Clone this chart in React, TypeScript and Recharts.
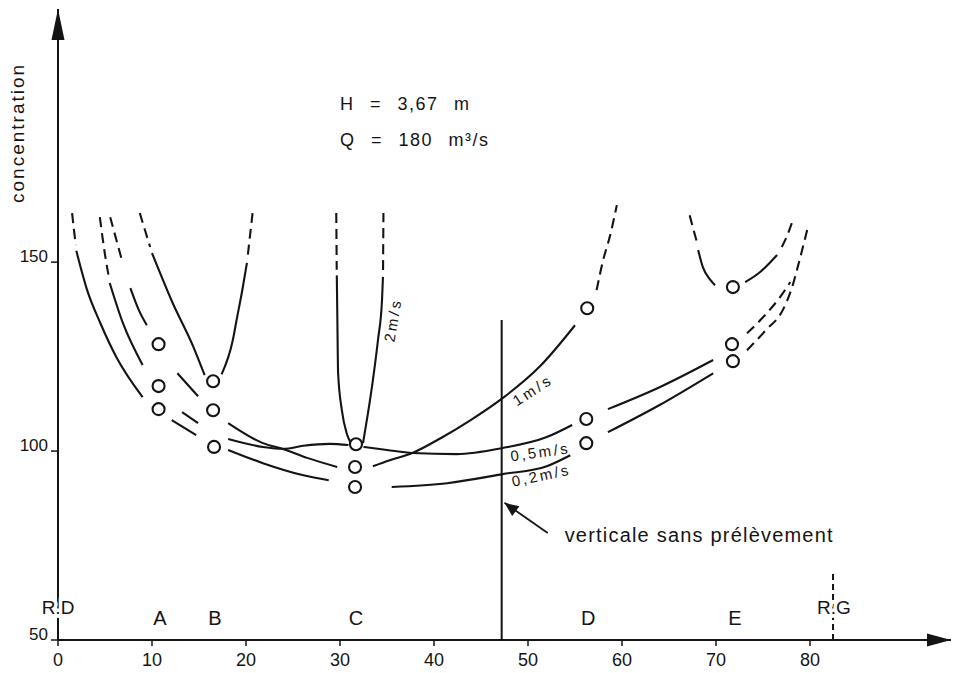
import React from 'react';
import { ComposedChart, Line, XAxis, YAxis, ReferenceDot } from 'recharts';

const F = "'Liberation Sans', Arial, Helvetica, sans-serif";
const INK = '#141414';

// ---- axes ----
const xTicks = [0, 10, 20, 30, 40, 50, 60, 70, 80];
const yTicks = [50, 100, 150];

// ---- 0,2 m/s curve (x = distance, y = concentration) ----
const c02Top = [[1.5, 163.0], [1.7, 158.5], [1.9, 154.5]];
const c02A = [[1.95, 153.0], [3.1, 142.6], [4.5, 133.9], [6.2, 124.9], [9.0, 114.3]];
const c02B = [[12.1, 108.2], [14.7, 104.2]];
const c02C = [[18.1, 100.3], [21.8, 96.8], [26.1, 93.6], [28.8, 92.3]];
const c02D = [[35.5, 90.5], [41.4, 91.5], [47.3, 93.9], [52.0, 96.0], [54.5, 98.9]];
const c02E = [[58.5, 105.0], [64.0, 112.2], [69.7, 120.6]];
const c02End = [[73.3, 126.7], [75.3, 132.0], [77.1, 137.3], [78.1, 143.4], [78.8, 149.7], [79.7, 158.5]];

// ---- 0,5 m/s curve ----
const c05Top = [[4.45, 161.9], [5.0, 152.0], [5.45, 145.5]];
const c05A = [[5.5, 144.5], [6.9, 133.9], [9.0, 122.8]];
const c05B = [[13.2, 110.3], [14.9, 107.4]];
const c05C = [[18.1, 103.2], [21.8, 101.1], [24.0, 100.6], [26.1, 101.4], [28.9, 101.9], [30.9, 101.6]];
const c05D = [[32.5, 101.1], [35.0, 100.3], [37.7, 99.5], [42.4, 99.2], [47.3, 100.8], [52.0, 103.7], [54.7, 106.9]];
const c05E = [[58.5, 111.1], [64.0, 116.9], [69.7, 124.1]];
const c05End = [[73.3, 131.2], [75.0, 135.4], [76.8, 140.7], [77.9, 144.7]];

// ---- 1 m/s curve ----
const c1Top = [[5.55, 161.9], [6.2, 156.0], [6.8, 150.5]];
const c1A = [[7.7, 143.1], [8.6, 137.3], [9.45, 133.3]];
const c1B = [[12.7, 120.6], [14.9, 114.5]];
const c1C = [[18.1, 107.4], [21.8, 102.1], [24.0, 100.5], [26.5, 98.2], [29.7, 95.8]];
const c1D = [[33.5, 96.0], [35.3, 97.6], [37.7, 99.5], [40.7, 103.4], [43.9, 108.2], [47.3, 114.0], [51.3, 122.5], [55.0, 133.3]];
const c1End = [[57.3, 142.6], [58.0, 150.6], [58.7, 156.7], [59.45, 165.1]];

// ---- 2 m/s curves (one U around verticals B, C, E) ----
const u2BTopL = [[8.7, 163.0], [9.25, 158.5], [9.8, 154.0]];
const u2BL = [[10.0, 152.4], [12.2, 139.2], [14.4, 127.6], [15.6, 120.1]];
const u2BR = [[17.4, 120.3], [18.6, 129.4], [19.0, 134.7], [19.6, 142.5], [20.1, 149.8]];
const u2BTopR = [[20.2, 152.0], [20.45, 157.5], [20.7, 163.0]];
const u2CTopL = [[29.6, 163.0], [29.63, 155.0], [29.65, 148.0]];
const u2CL = [[29.66, 146.5], [29.72, 134.7], [29.8, 120.6], [30.2, 110.8], [30.7, 104.8], [31.1, 102.4]];
const u2CR = [[32.45, 102.1], [32.98, 110.1], [33.5, 118.8], [34.04, 129.4], [34.47, 140.0], [34.57, 146.1]];
const u2CTopR = [[34.58, 147.9], [34.6, 155.0], [34.62, 163.0]];
const u2ETopL = [[67.2, 162.4], [67.6, 158.6], [68.0, 155.1]];
const u2EL = [[68.1, 153.2], [68.6, 148.7], [69.4, 145.3], [69.9, 143.9]];
const u2ER = [[73.1, 144.7], [74.7, 147.4], [76.5, 151.9]];
const u2ETopR = [[77.0, 154.0], [77.6, 157.2], [78.1, 160.6]];

// ---- measured points (circles) at verticals A..E ----
const measured = [
  [10.7, 128.3], [10.7, 117.2], [10.7, 111.1],
  [16.5, 118.5], [16.5, 110.8], [16.6, 101.1],
  [31.7, 101.8], [31.6, 95.8], [31.6, 90.5],
  [56.3, 137.8], [56.2, 108.5], [56.2, 102.1],
  [71.8, 143.4], [71.7, 128.3], [71.8, 123.8],
];

// ---- verticals / annotations ----
const noSampleVertical = [[47.2, 50], [47.2, 134.7]];
const leftBankMark = [[82.45, 50], [82.45, 68.5]];
const pointer = [[52.1, 78.3], [47.5, 86.3]];
const yArrow = [[0, 217]];
const xArrow = [[95, 50]];

const sectionNames = ['A', 'B', 'C', 'D', 'E'];
const sectionX = [10.85, 16.7, 31.7, 56.4, 72.0];

const toPts = (a: number[][]) => a.map(([x, y]) => ({ x, y }));

type Seg = { id: string; pts: number[][]; dash?: boolean };
const segments: Seg[] = [
  { id: 'c02Top', pts: c02Top, dash: true }, { id: 'c02A', pts: c02A }, { id: 'c02B', pts: c02B },
  { id: 'c02C', pts: c02C }, { id: 'c02D', pts: c02D }, { id: 'c02E', pts: c02E },
  { id: 'c02End', pts: c02End, dash: true },
  { id: 'c05Top', pts: c05Top, dash: true }, { id: 'c05A', pts: c05A }, { id: 'c05B', pts: c05B },
  { id: 'c05C', pts: c05C }, { id: 'c05D', pts: c05D }, { id: 'c05E', pts: c05E },
  { id: 'c05End', pts: c05End, dash: true },
  { id: 'c1Top', pts: c1Top, dash: true }, { id: 'c1A', pts: c1A }, { id: 'c1B', pts: c1B },
  { id: 'c1C', pts: c1C }, { id: 'c1D', pts: c1D }, { id: 'c1End', pts: c1End, dash: true },
  { id: 'u2BTopL', pts: u2BTopL, dash: true }, { id: 'u2BL', pts: u2BL }, { id: 'u2BR', pts: u2BR },
  { id: 'u2BTopR', pts: u2BTopR, dash: true },
  { id: 'u2CTopL', pts: u2CTopL, dash: true }, { id: 'u2CL', pts: u2CL }, { id: 'u2CR', pts: u2CR },
  { id: 'u2CTopR', pts: u2CTopR, dash: true },
  { id: 'u2ETopL', pts: u2ETopL, dash: true }, { id: 'u2EL', pts: u2EL }, { id: 'u2ER', pts: u2ER },
  { id: 'u2ETopR', pts: u2ETopR, dash: true },
];

const XTick = (p: any) => (
  <text x={p.x} y={p.y + 12} textAnchor="middle" dominantBaseline="central" fontSize={18} fontFamily={F} fill={INK}>
    {p.payload.value}
  </text>
);
const YTick = (p: any) => (
  <text x={p.x - 1} y={p.y - 6} textAnchor="end" dominantBaseline="central" fontSize={17} fontFamily={F} fill={INK}>
    {p.payload.value}
  </text>
);

type LOpts = { anchor?: 'start' | 'middle' | 'end'; rotate?: number; ls?: number; ws?: number; halo?: boolean };
const textShape = (s: string, size: number, o: LOpts = {}) => (p: any) => (
  <text
    x={p.cx}
    y={p.cy}
    fontSize={size}
    fontFamily={F}
    fill={INK}
    textAnchor={o.anchor ?? 'middle'}
    dominantBaseline="central"
    letterSpacing={o.ls ?? 0}
    wordSpacing={o.ws ?? 0}
    transform={o.rotate ? `rotate(${o.rotate} ${p.cx} ${p.cy})` : undefined}
    stroke={o.halo ? '#fff' : 'none'}
    strokeWidth={o.halo ? 7 : 0}
    paintOrder="stroke"
  >
    {s}
  </text>
);

const upArrow = (p: any) => (
  <polygon key="ya" points={`${p.cx},${p.cy} ${p.cx - 6.5},${p.cy + 31} ${p.cx + 6.5},${p.cy + 31}`} fill={INK} />
);
const rightArrow = (p: any) => (
  <polygon key="xa" points={`${p.cx},${p.cy} ${p.cx - 24},${p.cy - 6.5} ${p.cx - 24},${p.cy + 6.5}`} fill={INK} />
);
const pointerHead = (p: any) => {
  if (p.index !== 1) return <g key={`pg${p.index}`} />;
  const { cx, cy } = p;
  return (
    <polygon
      key="ph"
      points={`${cx},${cy} ${cx + 11.3 + 3.6},${cy + 8.3 - 4.9} ${cx + 11.3 - 3.6},${cy + 8.3 + 4.9}`}
      fill={INK}
    />
  );
};

export default function App() {
  return (
    <div style={{ position: 'absolute', left: 0, top: 0, width: 953, height: 673, background: '#fff' }}>
      <ComposedChart width={953} height={673} margin={{ top: 9, right: 2, bottom: 3, left: 8 }}>
        <XAxis
          dataKey="x"
          type="number"
          domain={[0, 95]}
          ticks={xTicks}
          interval={0}
          tick={XTick}
          tickSize={6}
          height={30}
          axisLine={{ stroke: INK, strokeWidth: 2 }}
          tickLine={{ stroke: INK, strokeWidth: 1.5 }}
        />
        <YAxis
          type="number"
          domain={[50, 217]}
          ticks={yTicks}
          interval={0}
          tick={YTick}
          tickSize={7}
          width={50}
          axisLine={{ stroke: INK, strokeWidth: 2 }}
          tickLine={{ stroke: INK, strokeWidth: 1.5 }}
        />
        {segments.map((s) => (
          <Line
            key={s.id}
            name={s.id}
            data={toPts(s.pts)}
            dataKey="y"
            type="monotone"
            stroke={INK}
            strokeWidth={2.1}
            strokeDasharray={s.dash ? '10 6' : undefined}
            dot={false}
            activeDot={false}
            isAnimationActive={false}
            legendType="none"
          />
        ))}
        <Line
          key="vert"
          data={toPts(noSampleVertical)}
          dataKey="y"
          type="linear"
          stroke={INK}
          strokeWidth={2}
          dot={false}
          activeDot={false}
          isAnimationActive={false}
        />
        <Line
          key="rg"
          data={toPts(leftBankMark)}
          dataKey="y"
          type="linear"
          stroke={INK}
          strokeWidth={2}
          strokeDasharray="6 4"
          dot={false}
          activeDot={false}
          isAnimationActive={false}
        />
        <Line
          key="pointer"
          data={toPts(pointer)}
          dataKey="y"
          type="linear"
          stroke={INK}
          strokeWidth={1.8}
          dot={pointerHead}
          activeDot={false}
          isAnimationActive={false}
        />
        <Line key="yarrow" data={toPts(yArrow)} dataKey="y" stroke="none" dot={upArrow} activeDot={false} isAnimationActive={false} />
        <Line key="xarrow" data={toPts(xArrow)} dataKey="y" stroke="none" dot={rightArrow} activeDot={false} isAnimationActive={false} />
        <Line
          key="measured"
          data={toPts(measured)}
          dataKey="y"
          stroke="none"
          dot={{ r: 6, fill: '#fff', stroke: INK, strokeWidth: 2.1 }}
          activeDot={false}
          isAnimationActive={false}
        />

        <ReferenceDot x={-4.26} y={184.2} r={0} ifOverflow="visible" shape={textShape('concentration', 19, { rotate: -90, ls: 2 })} />
        <ReferenceDot x={30.0} y={191.9} r={0} ifOverflow="visible" shape={textShape('H = 3,67 m', 18, { anchor: 'start', ls: 1.5, ws: 9 })} />
        <ReferenceDot x={30.0} y={182.3} r={0} ifOverflow="visible" shape={textShape('Q = 180 m³/s', 18, { anchor: 'start', ls: 1.5, ws: 9 })} />
        <ReferenceDot x={35.6} y={134.7} r={0} ifOverflow="visible" shape={textShape('2m/s', 15, { rotate: -80, ls: 3 })} />
        <ReferenceDot x={50.5} y={116.2} r={0} ifOverflow="visible" shape={textShape('1m/s', 15, { rotate: -33, ls: 3 })} />
        <ReferenceDot x={51.3} y={99.8} r={0} ifOverflow="visible" shape={textShape('0,5m/s', 15, { rotate: -8, ls: 2.5 })} />
        <ReferenceDot x={51.4} y={93.6} r={0} ifOverflow="visible" shape={textShape('0,2m/s', 15, { rotate: -12, ls: 2.5 })} />
        <ReferenceDot x={53.9} y={77.8} r={0} ifOverflow="visible" shape={textShape('verticale sans prélèvement', 20, { anchor: 'start', ls: 1.2 })} />
        {sectionNames.map((n, i) => (
          <ReferenceDot key={n} x={sectionX[i]} y={55.8} r={0} ifOverflow="visible" shape={textShape(n, 20)} />
        ))}
        <ReferenceDot x={0} y={58.7} r={0} ifOverflow="visible" shape={textShape('R.D', 19, { halo: true })} />
        <ReferenceDot x={82.55} y={58.7} r={0} ifOverflow="visible" shape={textShape('R.G', 19, { halo: true })} />
      </ComposedChart>
    </div>
  );
}
